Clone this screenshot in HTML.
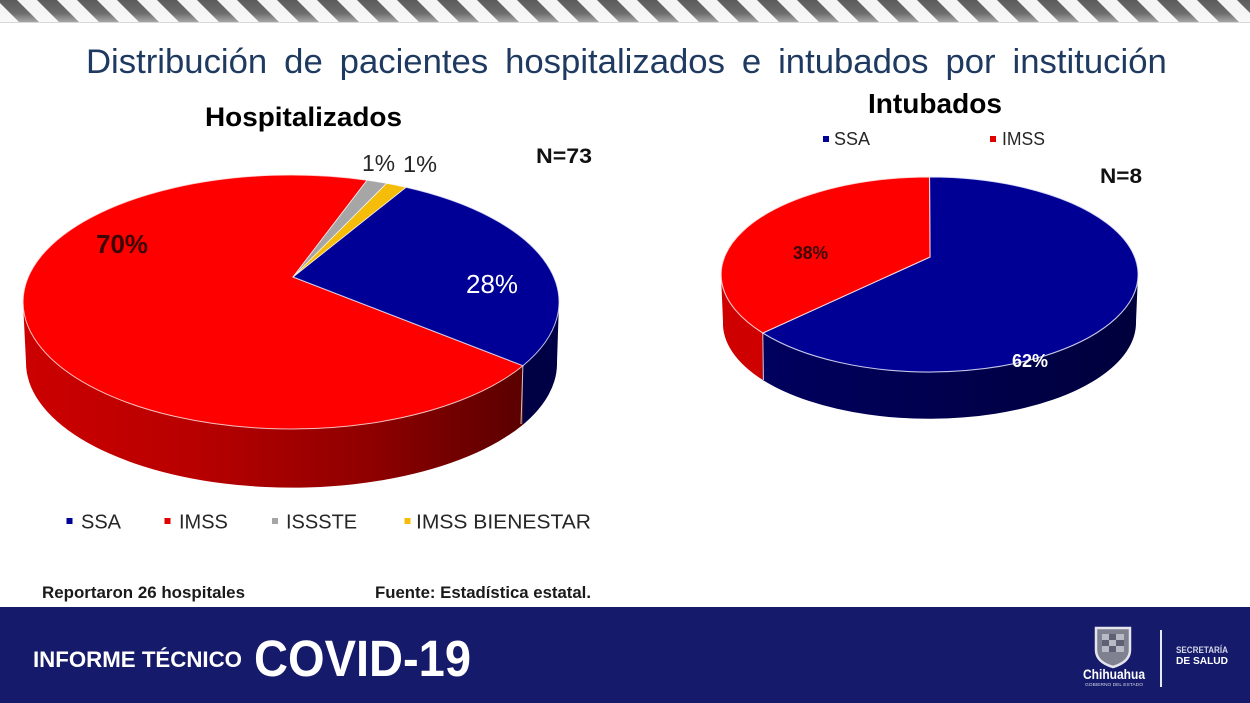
<!DOCTYPE html>
<html>
<head>
<meta charset="utf-8">
<style>
  html,body{margin:0;padding:0;background:#ffffff;}
  body{width:1250px;height:703px;overflow:hidden;}
  svg{display:block;}
  text{font-family:"Liberation Sans", Arial, sans-serif;}
</style>
</head>
<body>
<svg width="1250" height="703" viewBox="0 0 1250 703" xmlns="http://www.w3.org/2000/svg">
  <defs>
    <pattern id="stripes" patternUnits="userSpaceOnUse" x="0" y="0" width="40" height="22">
      <rect x="0" y="0" width="40" height="22" fill="#f4f4f4"/>
      <polygon points="-3,0 17,0 39,22 19,22" fill="#5c5c5c"/>
      <polygon points="37,0 57,0 79,22 59,22" fill="#5c5c5c"/>
    </pattern>
    <linearGradient id="stripeFade" x1="0" y1="0" x2="0" y2="1">
      <stop offset="0" stop-color="#ffffff" stop-opacity="0"/>
      <stop offset="0.6" stop-color="#ffffff" stop-opacity="0.1"/>
      <stop offset="1" stop-color="#ffffff" stop-opacity="0.45"/>
    </linearGradient>
    <linearGradient id="redSide1" gradientUnits="userSpaceOnUse" x1="23" y1="0" x2="523" y2="0">
      <stop offset="0" stop-color="#cc0000"/>
      <stop offset="0.35" stop-color="#b70000"/>
      <stop offset="0.7" stop-color="#8e0000"/>
      <stop offset="1" stop-color="#5a0000"/>
    </linearGradient>
    <linearGradient id="blueSide2" gradientUnits="userSpaceOnUse" x1="763" y1="0" x2="1138" y2="0">
      <stop offset="0" stop-color="#00005e"/>
      <stop offset="1" stop-color="#00003c"/>
    </linearGradient>
  </defs>

  <!-- background -->
  <rect x="0" y="0" width="1250" height="703" fill="#ffffff"/>

  <!-- top striped band -->
  <rect x="0" y="0" width="1250" height="22" fill="url(#stripes)"/>
  <rect x="0" y="0" width="1250" height="22" fill="url(#stripeFade)"/>
  <rect x="0" y="22" width="1250" height="1" fill="#d8d8d8"/>

  <!-- Title -->
  <text x="86" y="73" font-size="34.7" fill="#1f3a60" style="word-spacing:7.3px">Distribución de pacientes hospitalizados e intubados por institución</text>

  <!-- ===== Hospitalizados ===== -->
  <text x="205" y="126" font-size="27" font-weight="bold" fill="#000" textLength="197" lengthAdjust="spacingAndGlyphs">Hospitalizados</text>
  <text x="536" y="163" font-size="21" font-weight="bold" fill="#111" textLength="56" lengthAdjust="spacingAndGlyphs">N=73</text>

  <!-- sides -->
  <path d="M522.9,365.7 A268,127 0 0 1 23,302 L26,362 A266,125 0 0 0 522.9,424.7 Z" fill="url(#redSide1)"/>
  <path d="M559,302 A268,127 0 0 1 522.9,365.7 L522.9,424.7 A266,125 0 0 0 557,362 Z" fill="#000045"/>
  <line x1="522.9" y1="365.7" x2="521" y2="424" stroke="#ffffff" stroke-opacity="0.75" stroke-width="1"/>

  <!-- tops -->
  <path d="M293,277 L522.9,365.7 A268,127 0 1 1 367.1,180.2 Z" fill="#fe0000" stroke="#ffe6e6" stroke-opacity="0.8" stroke-width="1"/>
  <path d="M293,277 L405.9,187.3 A268,127 0 0 1 522.9,365.7 Z" fill="#000096" stroke="#e6e6ff" stroke-opacity="0.8" stroke-width="1"/>
  <path d="M293,277 L367.1,180.2 A268,127 0 0 1 386.6,183.4 Z" fill="#a6a6a6" stroke="#ffffff" stroke-opacity="0.7" stroke-width="0.8"/>
  <path d="M293,277 L386.6,183.4 A268,127 0 0 1 405.9,187.3 Z" fill="#f5bd0a" stroke="#ffffff" stroke-opacity="0.7" stroke-width="0.8"/>

  <!-- labels -->
  <text x="362" y="171" font-size="23.5" fill="#262626" textLength="33" lengthAdjust="spacingAndGlyphs">1%</text>
  <text x="403" y="172" font-size="23.5" fill="#262626" textLength="34" lengthAdjust="spacingAndGlyphs">1%</text>
  <text x="96" y="253" font-size="25.5" font-weight="bold" fill="#3c0606" textLength="52" lengthAdjust="spacingAndGlyphs">70%</text>
  <text x="466" y="293" font-size="25.5" fill="#ffffff" textLength="52" lengthAdjust="spacingAndGlyphs">28%</text>

  <!-- legend -->
  <rect x="66.5" y="518" width="6" height="6" fill="#000096"/>
  <text x="81" y="528.5" font-size="20" fill="#262626">SSA</text>
  <rect x="164.5" y="518" width="6" height="6" fill="#e00000"/>
  <text x="179" y="528.5" font-size="20" fill="#262626">IMSS</text>
  <rect x="272" y="518" width="6" height="6" fill="#a6a6a6"/>
  <text x="286" y="528.5" font-size="20" fill="#262626">ISSSTE</text>
  <rect x="404.5" y="518" width="6" height="6" fill="#f5bd0a"/>
  <text x="416" y="528.5" font-size="20" fill="#262626" textLength="175" lengthAdjust="spacingAndGlyphs">IMSS BIENESTAR</text>

  <!-- ===== Intubados ===== -->
  <text x="868" y="113" font-size="27.5" font-weight="bold" fill="#000" textLength="134" lengthAdjust="spacingAndGlyphs">Intubados</text>
  <rect x="823" y="136" width="6" height="6" fill="#000096"/>
  <text x="834" y="145" font-size="18" fill="#262626" textLength="36" lengthAdjust="spacingAndGlyphs">SSA</text>
  <rect x="990" y="136" width="6" height="6" fill="#e00000"/>
  <text x="1002" y="145" font-size="18" fill="#262626" textLength="43" lengthAdjust="spacingAndGlyphs">IMSS</text>
  <text x="1100" y="183" font-size="21.5" font-weight="bold" fill="#111" textLength="42" lengthAdjust="spacingAndGlyphs">N=8</text>

  <!-- sides -->
  <path d="M762.8,333 A208.5,97.5 0 0 1 721,274.5 L723,321.5 A207,96 0 0 0 762.8,380 Z" fill="#cf0000"/>
  <path d="M1138,274.5 A208.5,97.5 0 0 1 762.8,333 L762.8,380 A207,96 0 0 0 1136,321.5 Z" fill="url(#blueSide2)"/>
  <line x1="762.8" y1="333" x2="763.5" y2="380" stroke="#ffffff" stroke-opacity="0.75" stroke-width="1"/>

  <!-- tops -->
  <path d="M930,257 L929.5,177 A208.5,97.5 0 1 1 762.8,333 Z" fill="#000094" stroke="#e6e6ff" stroke-opacity="0.85" stroke-width="1.1"/>
  <path d="M930,257 L762.8,333 A208.5,97.5 0 0 1 929.5,177 Z" fill="#fe0000" stroke="#ffe6e6" stroke-opacity="0.85" stroke-width="1.1"/>

  <text x="793" y="259" font-size="18" font-weight="bold" fill="#3c0606" textLength="35" lengthAdjust="spacingAndGlyphs">38%</text>
  <text x="1012" y="367" font-size="18" font-weight="bold" fill="#ffffff" textLength="36" lengthAdjust="spacingAndGlyphs">62%</text>

  <!-- bottom notes -->
  <text x="42" y="598" font-size="17" font-weight="bold" fill="#1a1a1a" textLength="203" lengthAdjust="spacingAndGlyphs">Reportaron 26 hospitales</text>
  <text x="375" y="598" font-size="17" font-weight="bold" fill="#1a1a1a" textLength="216" lengthAdjust="spacingAndGlyphs">Fuente: Estadística estatal.</text>

  <!-- footer -->
  <rect x="0" y="607" width="1250" height="96" fill="#151a6b"/>
  <text x="33" y="667" font-size="22" font-weight="bold" fill="#ffffff" textLength="209" lengthAdjust="spacingAndGlyphs">INFORME TÉCNICO</text>
  <text x="254" y="676" font-size="51" font-weight="bold" fill="#ffffff" textLength="217" lengthAdjust="spacingAndGlyphs">COVID-19</text>

  <!-- logo -->
  <path d="M1096,628 L1130,628 L1130,650 Q1130,662 1113,667 Q1096,662 1096,650 Z" fill="#7f8191" stroke="#e4e4ec" stroke-width="2.5"/>
  <rect x="1102" y="634" width="22" height="18" fill="#5e6074"/>
  <rect x="1102" y="634" width="7" height="6" fill="#b8bac6"/>
  <rect x="1116" y="634" width="8" height="6" fill="#b8bac6"/>
  <rect x="1109" y="640" width="7" height="6" fill="#b8bac6"/>
  <rect x="1102" y="646" width="7" height="6" fill="#b8bac6"/>
  <rect x="1116" y="646" width="8" height="6" fill="#b8bac6"/>
  <text x="1083" y="679" font-size="13.5" font-weight="bold" fill="#ffffff" textLength="62" lengthAdjust="spacingAndGlyphs">Chihuahua</text>
  <text x="1085" y="686" font-size="4.5" fill="#d8d8e4" textLength="58" lengthAdjust="spacingAndGlyphs">GOBIERNO DEL ESTADO</text>
  <rect x="1160" y="630" width="2" height="57" fill="#e8e8f0"/>
  <text x="1176" y="653" font-size="9" font-weight="bold" fill="#d4d6e6" textLength="52" lengthAdjust="spacingAndGlyphs">SECRETARÍA</text>
  <text x="1176" y="664" font-size="10.5" font-weight="bold" fill="#ffffff" textLength="52" lengthAdjust="spacingAndGlyphs">DE SALUD</text>
</svg>
</body>
</html>
